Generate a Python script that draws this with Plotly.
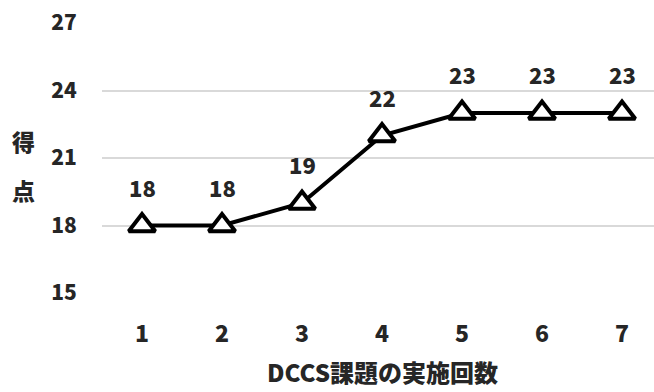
import plotly.graph_objects as go

sessions = [1, 2, 3, 4, 5, 6, 7]
scores = [18, 18, 19, 22, 23, 23, 23]
y_ticks = [15, 18, 21, 24, 27]
x_title = "DCCS課題の実施回数"
y_title_chars = ["得", "点"]

FONT = "Noto Sans CJK JP"
TXT = "#262626"

fig = go.Figure()
fig.add_trace(go.Scatter(
    x=sessions, y=scores, mode="lines+markers",
    line=dict(color="#000000", width=4),
    marker=dict(symbol="triangle-up", size=23, color="white",
                line=dict(color="#000000", width=4)),
    hoverinfo="skip", showlegend=False,
))

for xv, yv in zip(sessions, scores):
    fig.add_annotation(x=xv, y=yv, text=str(yv), showarrow=False,
                       yshift=39, font=dict(family=FONT, size=22, color=TXT, weight=900))

fig.add_annotation(xref="paper", yref="paper", x=0.508, y=-0.29, text=x_title,
                   showarrow=False, xanchor="center", yanchor="middle",
                   font=dict(family=FONT, size=24, color=TXT, weight=900))

for i, ch in enumerate(y_title_chars):
    fig.add_annotation(xref="paper", yref="y", x=-0.142, y=[21.76, 19.58][i], text=ch,
                       showarrow=False, xanchor="center", yanchor="middle",
                       font=dict(family=FONT, size=23, color=TXT, weight=900))

fig.update_layout(
    width=654, height=392,
    margin=dict(l=102, r=0, t=23, b=99),
    paper_bgcolor="white", plot_bgcolor="white",
    font=dict(family=FONT, color=TXT),
    xaxis=dict(range=[0.5, 7.4], tickvals=sessions, showgrid=False, zeroline=False,
               showline=False, ticks="outside", ticklen=20, tickcolor="rgba(0,0,0,0)",
               tickfont=dict(family=FONT, size=23, color=TXT, weight=900)),
    yaxis=dict(range=[15, 27], tickvals=y_ticks, showgrid=True, gridcolor="#d9d9d9",
               gridwidth=1.5, zeroline=False, showline=False, ticks="outside", ticklen=20,
               tickcolor="rgba(0,0,0,0)",
               tickfont=dict(family=FONT, size=21, color=TXT, weight=900)),
)

fig.write_html("out.html")
